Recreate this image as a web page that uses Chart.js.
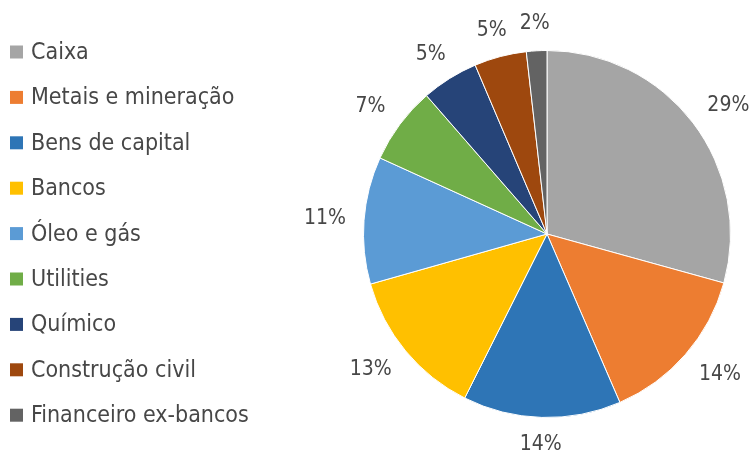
<!DOCTYPE html>
<html>
<head>
<meta charset="utf-8">
<script src="https://cdn.jsdelivr.net/npm/chart.js@4.4.0/dist/chart.umd.min.js"></script>
<style>
  html, body { margin: 0; padding: 0; background: #fff; }
</style>
</head>
<body>
<canvas id="myChart" width="751" height="456"></canvas>
<script>
const categories = [
  "Caixa",
  "Metais e mineração",
  "Bens de capital",
  "Bancos",
  "Óleo e gás",
  "Utilities",
  "Químico",
  "Construção civil",
  "Financeiro ex-bancos",
];
const shares = [29.3, 14.2, 13.9, 13.2, 11.2, 6.8, 5.0, 4.6, 1.8];
const colors = [
  "#a5a5a5", "#ed7d31", "#2e75b6", "#ffc000", "#5b9bd5",
  "#70ad47", "#264478", "#9e480e", "#636363",
];

const FONT = "'DejaVu Sans Condensed', 'DejaVu Sans', sans-serif";
const TEXT_COLOR = "#474747";

// percentage labels just outside each slice
const outsideLabels = {
  id: "outsideLabels",
  afterDatasetsDraw(chart) {
    const ctx = chart.ctx;
    const meta = chart.getDatasetMeta(0);
    const data = chart.data.datasets[0].data;
    const total = data.reduce((a, b) => a + b, 0);
    ctx.save();
    ctx.font = "21px " + FONT;
    ctx.fillStyle = TEXT_COLOR;
    ctx.textAlign = "center";
    ctx.textBaseline = "middle";
    meta.data.forEach((arc, i) => {
      const mid = (arc.startAngle + arc.endAngle) / 2;
      const ux = Math.cos(mid), uy = Math.sin(mid);
      const m = Math.max(Math.abs(ux), Math.abs(uy));
      const text = Math.round((data[i] / total) * 100) + "%";
      const hw = ctx.measureText(text).width / 2;
      const hh = 9;
      const d = arc.outerRadius + 18;
      const x = arc.x + ux * d + (ux / m) * hw;
      const y = arc.y + uy * d + (uy / m) * hh;
      ctx.fillText(text, x, y);
    });
    ctx.restore();
  },
};

// legend drawn on the left, outside the pie's layout box
const leftLegend = {
  id: "leftLegend",
  afterDraw(chart) {
    const ctx = chart.ctx;
    const labels = chart.data.labels;
    const bg = chart.data.datasets[0].backgroundColor;
    ctx.save();
    ctx.font = "23px " + FONT;
    ctx.textBaseline = "middle";
    ctx.textAlign = "left";
    labels.forEach((lab, i) => {
      const y = 52 + i * 45.4;
      ctx.fillStyle = bg[i];
      ctx.fillRect(10, y - 6.5, 13, 13);
      ctx.fillStyle = TEXT_COLOR;
      ctx.fillText(lab, 31, y + 1);
    });
    ctx.restore();
  },
};

const ctx = document.getElementById("myChart").getContext("2d");
new Chart(ctx, {
  type: "pie",
  data: {
    labels: categories,
    datasets: [
      {
        data: shares,
        backgroundColor: colors,
        borderColor: "#ffffff",
        borderWidth: 1,
      },
    ],
  },
  options: {
    responsive: false,
    animation: false,
    layout: {
      padding: { left: 363, right: 20, top: 50, bottom: 38 },
    },
    plugins: {
      legend: { display: false },
      tooltip: { enabled: false },
    },
  },
  plugins: [outsideLabels, leftLegend],
});
</script>
</body>
</html>
